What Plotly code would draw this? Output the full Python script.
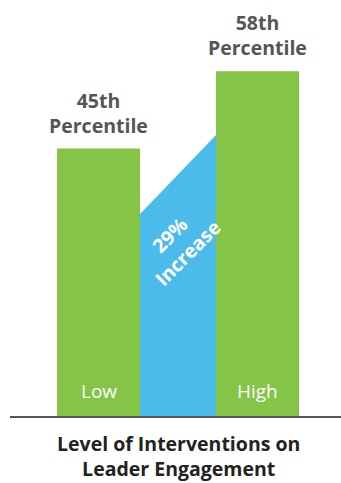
import plotly.graph_objects as go

categories = ["Low", "High"]
values = [45, 58]
value_labels = ["45th<br>Percentile", "58th<br>Percentile"]
wedge_start_end = [34, 47.3]
increase_label = "29%<br>Increase"
title_text = "Level of Interventions on<br>Leader Engagement"

GREEN = "#84C446"
BLUE = "#4ABBEB"
FONT = "Open Sans"

xpos = [0, 1]
bar_w = 0.522
fig = go.Figure()

# wedge between bars
wx = [xpos[0] + bar_w / 2, xpos[1] - bar_w / 2]
fig.add_trace(go.Scatter(
    x=[wx[0], wx[1], wx[1], wx[0], wx[0]],
    y=[wedge_start_end[0], wedge_start_end[1], 0, 0, wedge_start_end[0]],
    fill="toself", fillcolor=BLUE, mode="lines", line=dict(width=0, color=BLUE),
    hoverinfo="skip", showlegend=False))

fig.add_trace(go.Bar(x=xpos, y=values, width=bar_w, marker=dict(color=GREEN, line=dict(width=0)),
                     showlegend=False, hoverinfo="skip"))

for x, v, lab, cat in zip(xpos, values, value_labels, categories):
    fig.add_annotation(x=x, y=v, text=f"<b>{lab}</b>", showarrow=False, yanchor="bottom",
                       yshift=8, font=dict(family=FONT, size=19.5, color="#555555"))
    fig.add_annotation(x=x, y=0, text=cat, showarrow=False, yanchor="middle",
                       yshift=25, font=dict(family=FONT, size=19, color="white"))

fig.add_annotation(x=0.5, y=29, text=f"<b>{increase_label}</b>", showarrow=False,
                   textangle=-45, font=dict(family=FONT, size=19.5, color="white"))

fig.add_annotation(x=0.5, xref="x", y=0, yref="paper", text=f"<b>{title_text}</b>",
                   showarrow=False, yanchor="middle", yshift=-40, borderpad=0,
                   font=dict(family=FONT, size=19.5, color="#222222"))

fig.update_layout(
    width=341, height=483, margin=dict(l=10, r=0, t=0, b=66.5),
    paper_bgcolor="white", plot_bgcolor="white",
    xaxis=dict(range=[-0.557, 1.525], showgrid=False, zeroline=False, showticklabels=False,
               showline=True, linecolor="#555555", linewidth=2, ticks=""),
    yaxis=dict(range=[0, 70], showgrid=False, zeroline=False, showticklabels=False,
               showline=False),
)
fig.write_html("out.html")
